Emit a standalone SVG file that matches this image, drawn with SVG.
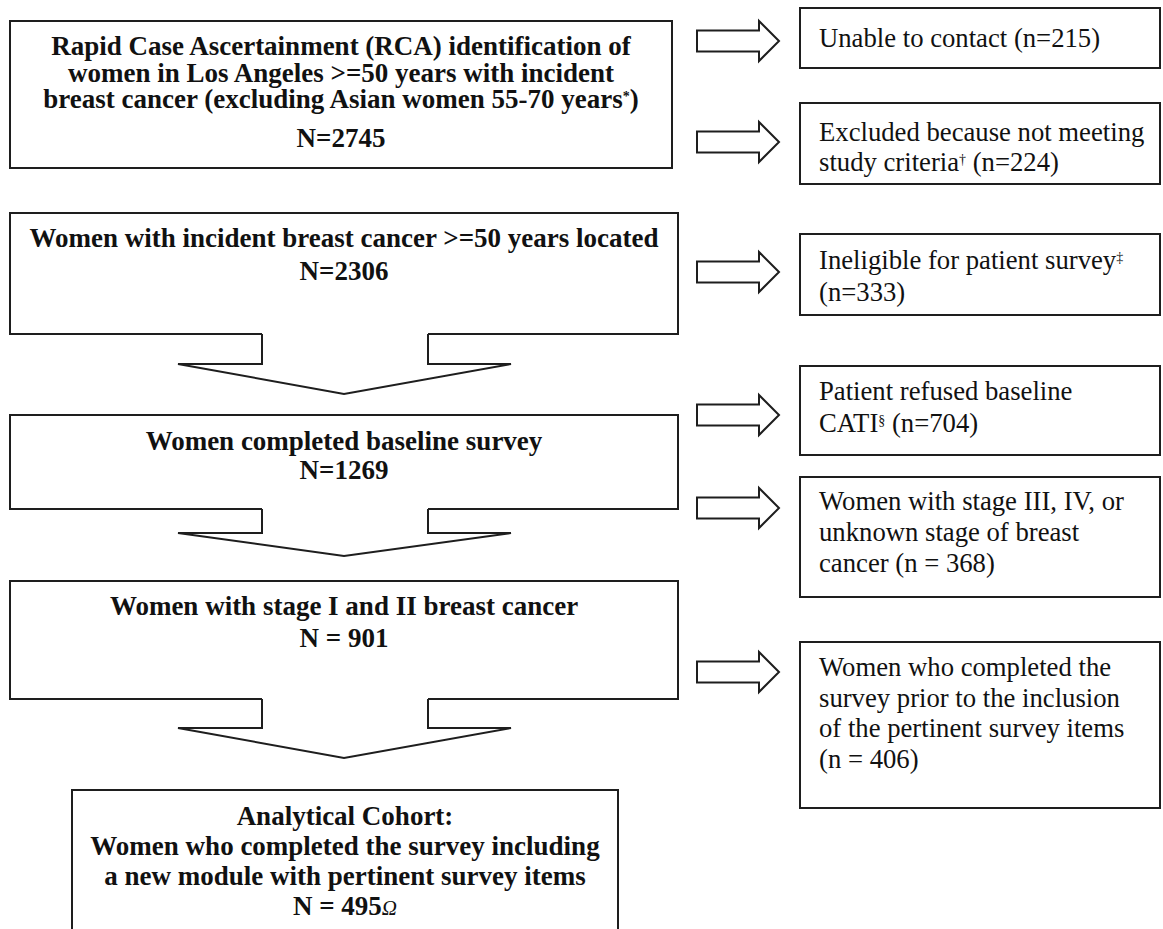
<svg xmlns="http://www.w3.org/2000/svg" width="1163" height="929" viewBox="0 0 1163 929">
<style>
.box{fill:none;stroke:#1e1e1e;stroke-width:2}
.con{fill:none;stroke:#1e1e1e;stroke-width:2;stroke-linejoin:miter}
.b{font-family:"Liberation Serif","Times New Roman",serif;font-weight:bold;font-size:27px;fill:#111;text-anchor:middle}
.r{font-family:"Liberation Serif","Times New Roman",serif;font-size:26.7px;fill:#111}
.sup{font-size:14px}
</style>
<defs>
<path id="rarrow" d="M0,-10.5 H62 V-20 L82,0 L62,20 V10.5 H0 Z" fill="#fff" stroke="#1e1e1e" stroke-width="2"/>
</defs>
<rect width="1163" height="929" fill="#fff"/>

<g id="n1">
<rect class="box" x="10" y="21" width="662" height="147"/>
<text class="b" x="341" y="55">Rapid Case Ascertainment (RCA) identification of</text>
<text class="b" x="341" y="82">women in Los Angeles  &gt;=50 years with incident</text>
<text class="b" x="341" y="108">breast cancer (excluding Asian women 55-70 years<tspan class="sup" baseline-shift="super">*</tspan>)</text>
<text class="b" x="341" y="147">N=2745</text>
</g>

<g id="n2">
<path class="box" d="M262,334 H10 V213 H678 V334 H428"/>
<text class="b" x="344" y="247">Women with incident breast cancer &gt;=50 years located</text>
<text class="b" x="344" y="280">N=2306</text>
</g>

<g id="n3">
<path class="box" d="M262,509 H10 V415 H678 V509 H428"/>
<text class="b" x="344" y="450">Women completed baseline survey</text>
<text class="b" x="344" y="479">N=1269</text>
</g>

<g id="n4">
<path class="box" d="M262,699 H10 V581 H678 V699 H428"/>
<text class="b" x="344" y="615">Women with stage I and II breast cancer</text>
<text class="b" x="344" y="647">N = 901</text>
</g>

<g id="n5">
<rect class="box" x="72" y="790" width="546" height="150"/>
<text class="b" x="345" y="825">Analytical Cohort:</text>
<text class="b" x="345" y="855">Women who completed the survey including</text>
<text class="b" x="345" y="885">a new module with pertinent survey items</text>
<text class="b" x="345" y="915">N = 495<tspan font-style="italic" font-weight="normal" font-size="21px">Ω</tspan></text>
</g>

<g id="eA">
<rect class="box" x="800" y="8" width="360" height="60"/>
<text class="r" x="819" y="47">Unable to contact (n=215)</text>
</g>

<g id="eB">
<rect class="box" x="800" y="103" width="360" height="81"/>
<text class="r" x="819" y="141">Excluded because not meeting</text>
<text class="r" x="819" y="171">study criteria<tspan class="sup" baseline-shift="super">†</tspan> (n=224)</text>
</g>

<g id="eC">
<rect class="box" x="800" y="234" width="360" height="81"/>
<text class="r" x="819" y="269">Ineligible for patient survey<tspan class="sup" baseline-shift="super">‡</tspan></text>
<text class="r" x="819" y="301">(n=333)</text>
</g>

<g id="eD">
<rect class="box" x="800" y="366" width="360" height="89"/>
<text class="r" x="819" y="400">Patient refused baseline</text>
<text class="r" x="819" y="432">CATI<tspan class="sup" baseline-shift="super">§</tspan> (n=704)</text>
</g>

<g id="eE">
<rect class="box" x="800" y="477" width="360" height="120"/>
<text class="r" x="819" y="510">Women with stage III, IV, or</text>
<text class="r" x="819" y="541">unknown stage of breast</text>
<text class="r" x="819" y="572">cancer (n = 368)</text>
</g>

<g id="eF">
<rect class="box" x="800" y="642" width="360" height="166"/>
<text class="r" x="819" y="676">Women who completed the</text>
<text class="r" x="819" y="707">survey prior to the inclusion</text>
<text class="r" x="819" y="737">of the pertinent survey items</text>
<text class="r" x="819" y="768">(n = 406)</text>
</g>

<g id="connectors">
<polyline class="con" points="262,334 262,364 178,364 344,394 511,364 428,364 428,334"/>
<polyline class="con" points="262,509 262,533 178,533 344,556 511,533 428,533 428,509"/>
<polyline class="con" points="262,699 262,728 178,728 344,758 511,728 428,728 428,699"/>
<use href="#rarrow" x="697" y="41"/>
<use href="#rarrow" x="697" y="142"/>
<use href="#rarrow" x="697" y="272"/>
<use href="#rarrow" x="697" y="415"/>
<use href="#rarrow" x="697" y="508"/>
<use href="#rarrow" x="697" y="672"/>
</g>
</svg>
